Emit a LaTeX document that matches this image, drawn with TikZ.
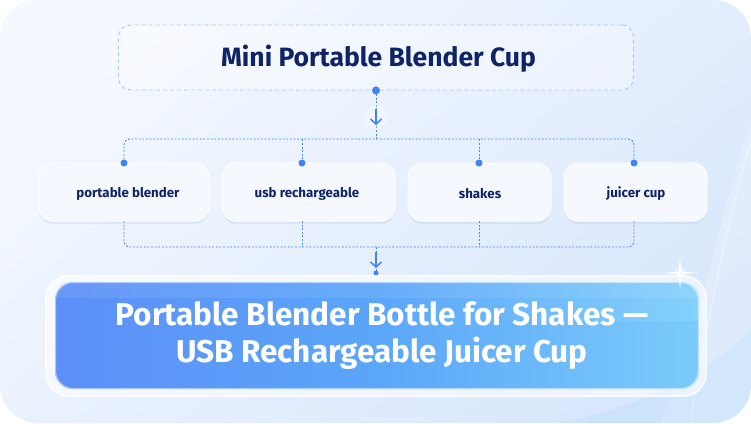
\documentclass[tikz,border=0pt]{standalone}
\usepackage{fontspec}
\setmainfont{Fira Sans}
\usetikzlibrary{arrows.meta,shadows,calc}
\definecolor{bgTop}{HTML}{F4F8FF}
\definecolor{bgBot}{HTML}{D9E7FC}
\definecolor{topdash}{HTML}{A9C8F6}
\definecolor{navy}{HTML}{0F2466}
\definecolor{busblue}{HTML}{4C8AF2}
\definecolor{dotblue}{HTML}{3F84F4}
\definecolor{itemfill}{HTML}{F5F8FF}
\definecolor{shadowblue}{HTML}{9DBDF2}
\definecolor{blueL}{HTML}{5C8FF8}
\definecolor{blueM}{HTML}{5BA6F9}
\definecolor{blueR}{HTML}{7CCBFB}
\definecolor{blueT}{HTML}{8ED8FC}
\tikzset{
 topbox/.style={draw=topdash, line width=0.9pt, dash pattern=on 4pt off 3pt, rounded corners=12pt, fill=white, fill opacity=0.35, text opacity=1, minimum width=515pt, minimum height=65pt},
 toptext/.style={font=\bfseries\fontsize{26.5}{30}\selectfont, text=navy},
 item/.style={draw=white, line width=1pt, rounded corners=14pt, fill=itemfill, minimum height=58pt, drop shadow={shadow xshift=0pt, shadow yshift=-3pt, opacity=0.22, fill=shadowblue}},
 itemtext/.style={font=\bfseries\fontsize{13.3}{15}\selectfont, text=navy},
 bus/.style={draw=busblue, line width=0.9pt, dash pattern=on 2pt off 1.6pt},
 dotnode/.style={circle, fill=dotblue, inner sep=0pt, minimum size=#1},
 arr/.style={draw=dotblue, line width=1.5pt, -{Straight Barb[length=5pt,width=11pt]}},
 botbox/.style={rounded corners=18pt, left color=blueL, right color=blueR, middle color=blueM, minimum width=644pt, minimum height=107pt},
 bottext/.style={text=white, align=center, font=\bfseries\fontsize{31.5}{37}\selectfont},
}
\begin{document}
\begin{tikzpicture}[x=1pt,y=-1pt]
\useasboundingbox (0,0) rectangle (751,423);
\fill[white] (0,0) rectangle (751,423);
\shade[rounded corners=38pt, top color=bgTop, bottom color=bgBot, shading angle=40] (0,0) rectangle (751,423);
% decorative curves
\begin{scope}
\clip[rounded corners=38pt] (0,0) rectangle (751,423);
\fill[white, opacity=0.18] (751,120) .. controls (715,230) and (700,330) .. (660,423) -- (751,423) -- cycle;
\draw[white, opacity=0.6, line width=0.8pt] (751,140) .. controls (725,230) and (712,300) .. (690,423);
\fill[blueR, opacity=0.12] (751,330) .. controls (700,380) and (640,405) .. (560,423) -- (751,423) -- cycle;
\end{scope}
% top box
\node[topbox] (top) at (376,57.5) {};
\node[toptext] (toptxt) at (378.5,59) {Mini Portable Blender Cup};
% items
\node[item, minimum width=170pt] (p1) at (124,192) {};
\node[item, minimum width=173pt] (p2) at (308.5,192) {};
\node[item, minimum width=143pt] (p3) at (479.5,192) {};
\node[item, minimum width=143pt] (p4) at (635.5,192) {};
\node[itemtext] (p1t) at (128,194) {portable blender};
\node[itemtext] (p2t) at (307,194) {usb rechargeable};
\node[itemtext] (p3t) at (480,194) {shakes};
\node[itemtext] (p4t) at (636,194) {juicer cup};
% bus coordinates
\coordinate (busT) at (376,139);
\coordinate (busB) at (376,247);
\coordinate (t1) at (124,163);
\coordinate (t2) at (302,163);
\coordinate (t3) at (479,163);
\coordinate (t4) at (634,163);
\coordinate (b1) at (124,221);
\coordinate (b2) at (302,221);
\coordinate (b3) at (479,221);
\coordinate (b4) at (634,221);
% top connector
\draw[bus] (top.south) -- (busT);
\node[circle, fill=white, fill opacity=0.3, minimum size=24pt, inner sep=0pt] (c1) at (376,117) {};
\coordinate (a1s) at (376,109);
\coordinate (a1e) at (376,125);
\draw[arr] (a1s) -- (a1e);
\node[dotnode=8pt] (d0) at (top.south) {};
% top bus
\draw[bus, rounded corners=6pt] (t1) |- (busT) -| (t4);
\draw[bus] (t2) -- (t2 |- busT);
\draw[bus] (t3) -- (t3 |- busT);
\foreach \i in {1,2,3,4} {\node[dotnode=7pt] (dt\i) at (t\i) {};}
% bottom bus
\draw[bus, rounded corners=6pt] (b1) |- (busB) -| (b4);
\draw[bus] (b2) -- (b2 |- busB);
\draw[bus] (b3) -- (b3 |- busB);
\coordinate (dB) at (376,273);
\draw[bus] (busB) -- (dB);
\coordinate (a2s) at (376,252);
\coordinate (a2e) at (376,268);
\draw[arr] (a2s) -- (a2e);
\node[dotnode=5pt] (d5) at (dB) {};
% bottom box
\fill[white, opacity=0.55, rounded corners=23pt] (45,275) rectangle (707,397);
\draw[white, opacity=0.9, line width=1.2pt, rounded corners=23pt] (46,276) rectangle (706,396);
\node[botbox] (bot) at (377,335.5) {};
\begin{scope}
\clip[rounded corners=18pt] (55,282) rectangle (699,389);
\shade[left color=blueM, right color=blueT, opacity=0.55] (380,282) rectangle (699,320);
\fill[white, opacity=0.08] (55,282) rectangle (699,298);
\end{scope}
\draw[white, opacity=0.5, line width=1pt, rounded corners=18pt] (55.5,282.5) rectangle (698.5,388.5);
\node[bottext] (bottxt) at (382,336) {Portable Blender Bottle for Shakes —\\USB Rechargeable Juicer Cup};
% sparkle
\fill[white, opacity=0.35] (680,273) circle (6pt);
\fill[white] (680,256) -- (681.4,271.6) -- (697,273) -- (681.4,274.4) -- (680,290) -- (678.6,274.4) -- (663,273) -- (678.6,271.6) -- cycle;
\end{tikzpicture}
\end{document}
